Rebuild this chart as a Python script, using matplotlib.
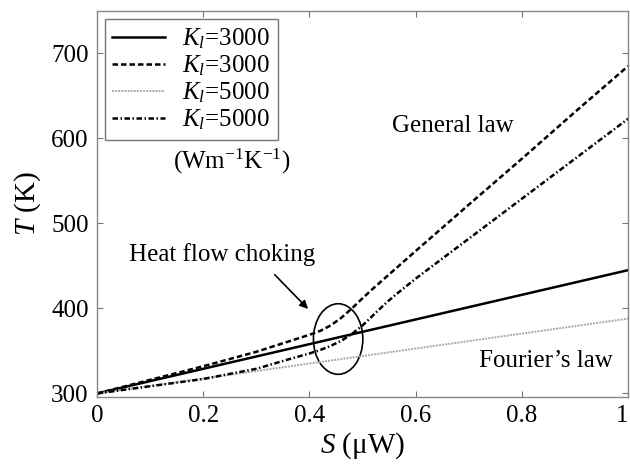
import numpy as np
import matplotlib.pyplot as plt
from matplotlib.patches import Ellipse

plt.rcParams['font.family'] = ['Liberation Serif', 'DejaVu Serif']
plt.rcParams['mathtext.fontset'] = 'custom'
plt.rcParams['mathtext.rm'] = 'Liberation Serif'
plt.rcParams['mathtext.it'] = 'Liberation Serif:italic'

# Fourier's law (linear)
s_fourier = [0, 1]
t_fourier_3000 = [300, 445]
t_fourier_5000 = [300, 388]

# general law (heat flow choking)
s_general = [0, 0.1, 0.2, 0.3, 0.36, 0.4, 0.42, 0.44, 0.46, 0.48, 0.5,
             0.52, 0.54, 0.56, 0.58, 0.6, 0.7, 0.8, 0.9, 1.0]
t_general_3000 = [300, 316, 332, 349, 361, 369, 373.5, 380, 389, 400, 412,
                  423.5, 434.5, 445.5, 456.5, 467.5, 522, 576, 631, 685]
t_general_5000 = [300, 308.5, 317, 329, 340, 347, 351, 356, 362, 370, 380,
                  392, 404, 415, 425, 435, 482, 529, 576, 623]

labels = ['$K_l$=3000', '$K_l$=3000', '$K_l$=5000', '$K_l$=5000']

fig = plt.figure(figsize=(6.3, 4.68), dpi=100)
ax = fig.add_axes([0.154, 0.152, 0.843, 0.825])

ax.plot(s_fourier, t_fourier_3000, color='black', lw=1.8, label=labels[0])
ax.plot(s_general, t_general_3000, color='black', lw=1.8,
        linestyle=(0, (2.2, 1.2)), label=labels[1])
ax.plot(s_fourier, t_fourier_5000, color='#a8a8a8', lw=1.4,
        linestyle=(0, (1, 0.6)), label=labels[2])
ax.plot(s_general, t_general_5000, color='black', lw=1.8,
        linestyle=(0, (2.2, 1.0, 0.6, 1.0)), label=labels[3])

ax.add_patch(Ellipse((0.454, 364), 0.093, 83, fill=False, color='black', lw=1.2))
ax.annotate('', xy=(0.401, 397), xytext=(0.331, 442),
            arrowprops=dict(arrowstyle='-|>', color='black', lw=1.2, mutation_scale=12))

ax.text(0.41, 463, 'Heat flow choking', fontsize=18, ha='right', va='center')
ax.text(0.669, 615, 'General law', fontsize=18, ha='center', va='center')
ax.text(0.846, 338, 'Fourier\u2019s law', fontsize=18, ha='center', va='center')
ax.text(0.143, 573, '(Wm$^{\\mathregular{-1}}$K$^{\\mathregular{-1}}$)', fontsize=18,
        ha='left', va='center')

ax.set_xlim(0, 1)
ax.set_ylim(296, 750)
ax.set_xticks([0, 0.2, 0.4, 0.6, 0.8, 1])
ax.set_xticklabels(['0', '0.2', '0.4', '0.6', '0.8', '1'])
ax.get_xticklabels()[-1].set_horizontalalignment('right')
ax.set_yticks([300, 400, 500, 600, 700])
ax.tick_params(direction='in', length=4, top=True, right=True, labelsize=18,
               color='#777777', pad=6)
for sp in ax.spines.values():
    sp.set_color('#888888')
    sp.set_linewidth(1.0)

ax.set_xlabel('$S$ (\u03bcW)', fontsize=21, labelpad=2)
ax.set_ylabel('$T$ (K)', fontsize=21, labelpad=6)

leg = ax.legend(loc='upper left', bbox_to_anchor=(0.015, 0.979), borderaxespad=0,
                fontsize=18, fancybox=False, handlelength=2.1, labelspacing=0.1,
                borderpad=0.3, handletextpad=0.7, framealpha=1)
leg.get_frame().set_edgecolor('#777777')
leg.get_frame().set_linewidth(1.0)

fig.savefig('out.png', dpi=100)
